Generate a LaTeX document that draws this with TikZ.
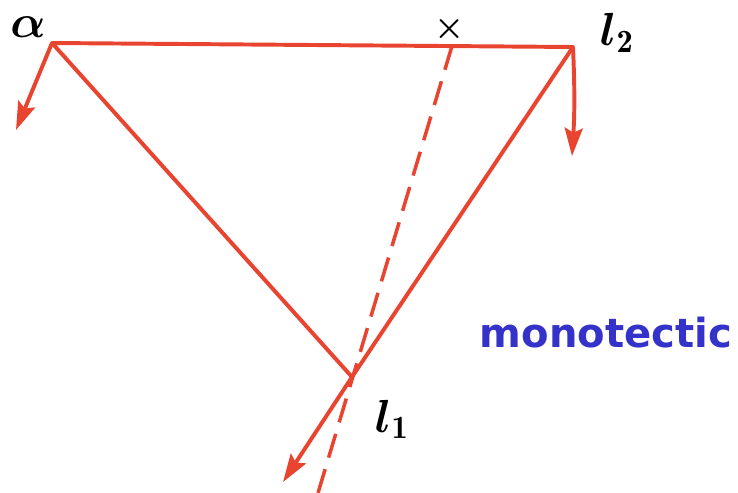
\RequirePackage{fix-cm}
\documentclass[tikz,border=0pt]{standalone}
\usepackage{amsmath}
\usepackage{fontspec}
\usetikzlibrary{arrows.meta}
\newfontfamily\labelfont{DejaVu Sans}
\definecolor{phasered}{RGB}{232,68,48}
\definecolor{labelblue}{RGB}{52,50,200}
\def\lineW{2.8pt}
\def\labelSize{33}

\begin{document}
\begin{tikzpicture}[
    x=0.025cm, y=-0.025cm,
    line width=\lineW,
    >={Stealth[length=0.7cm,width=0.45cm,inset=0.12cm]},
    tie/.style={draw=phasered, line cap=round, line join=round},
    tieline/.style={draw=phasered, dash pattern=on 0.62cm off 0.3cm, line width=2.5pt},
    drift/.style={draw=phasered, fill=phasered, ->},
    phaselabel/.style={inner sep=0pt, font=\fontsize{\labelSize}{\labelSize}\selectfont},
    textlabel/.style={inner sep=0pt, text=labelblue, font=\labelfont\bfseries\fontsize{28.5}{30}\selectfont}
]
\useasboundingbox (0,0) rectangle (738,493);

% corners of the triangle
\coordinate (a) at (52,43);
\coordinate (l2) at (573,47);
\coordinate (l1) at (352,377);
\coordinate (xm) at (452,46);

% free ends
\coordinate (aend) at (16,130);
\coordinate (l2end) at (572,156);
\coordinate (l1end) at (283,482);
\coordinate (dashend) at (318,493);

\node[phaselabel, font=\fontsize{33}{33}\selectfont] (alab) at (28,27) {$\boldsymbol{\alpha}$};
\node[phaselabel, font=\fontsize{24}{24}\selectfont] (xlab) at (450,29) {$\boldsymbol{\times}$};
\node[phaselabel, anchor=base west] (l2lab) at (598,46) {$\boldsymbol{l}_{\mathbf{2}}$};
\node[phaselabel, anchor=base west] (l1lab) at (373,432) {$\boldsymbol{l}_{\mathbf{1}}$};
\node[textlabel, anchor=base west] (mono) at (478,347) {monotectic};

\draw[tie] (a) -- (l2) -- (l1) -- cycle;
\draw[tieline] (xm) -- (dashend);
\draw[drift] (a) -- (aend);
\draw[drift] (l2) to[bend left=3] (l2end);
\draw[drift] (l1) -- (l1end);
\end{tikzpicture}
\end{document}
